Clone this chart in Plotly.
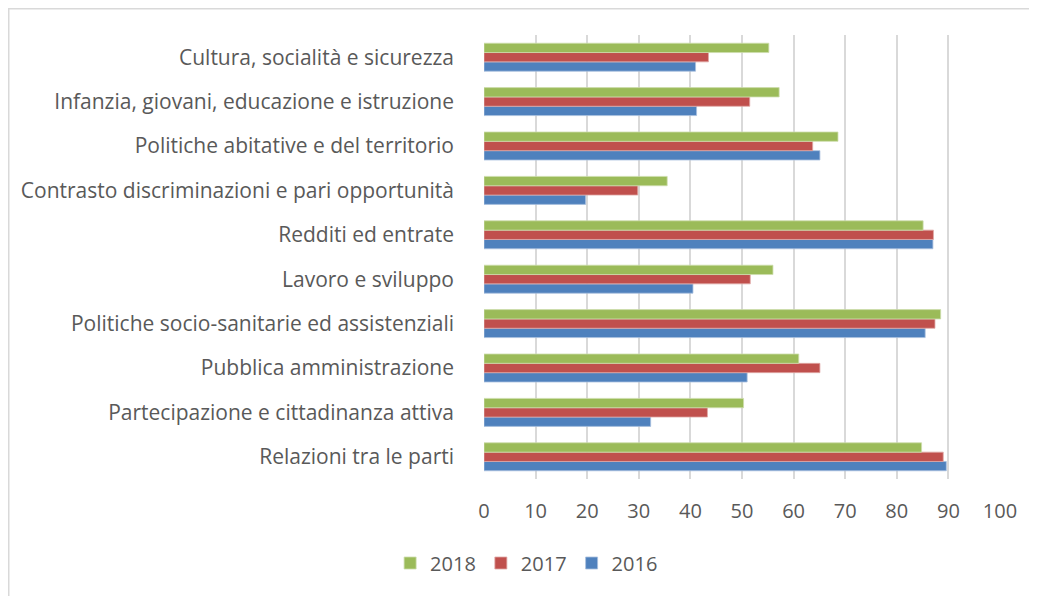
import plotly.graph_objects as go

categories = [
    "Cultura, socialità e sicurezza",
    "Infanzia, giovani, educazione e istruzione",
    "Politiche abitative e del territorio",
    "Contrasto discriminazioni e pari opportunità",
    "Redditi ed entrate",
    "Lavoro e sviluppo",
    "Politiche socio-sanitarie ed assistenziali",
    "Pubblica amministrazione",
    "Partecipazione e cittadinanza attiva",
    "Relazioni tra le parti",
]
values_2018 = [55.2, 57.2, 68.6, 35.5, 85.1, 56.0, 88.5, 61.0, 50.3, 84.8]
values_2017 = [43.5, 51.5, 63.7, 29.8, 87.1, 51.6, 87.4, 65.1, 43.3, 89.0]
values_2016 = [41.0, 41.2, 65.1, 19.7, 87.0, 40.5, 85.5, 51.0, 32.3, 89.6]
x_ticks = [0, 10, 20, 30, 40, 50, 60, 70, 80, 90, 100]

series = [
    ("2016", values_2016, "#4F81BD", "#A9C0DE"),
    ("2017", values_2017, "#C0504D", "#DFA8A6"),
    ("2018", values_2018, "#9BBB59", "#CDDDAC"),
]

FONT = "Open Sans"
TXT = "#595959"

fig = go.Figure()
for name, vals, col, edge in series:
    fig.add_trace(go.Bar(
        y=categories, x=vals, name=name, orientation="h",
        marker=dict(color=col, line=dict(color=edge, width=0.8)),
    ))

# page places the figure at an 8px offset
W, H = 1029, 588
L, T = 476, 27
pw, ph = 516, 444
R, B = W - L - pw, H - T - ph

fig.update_layout(
    width=W, height=H,
    margin=dict(l=L, r=R, t=T, b=B, autoexpand=False),
    paper_bgcolor="white", plot_bgcolor="white",
    barmode="group", bargap=0.37, bargroupgap=0,
    font=dict(family=FONT, size=21, color=TXT),
    showlegend=True,
    legend=dict(
        orientation="h", traceorder="reversed",
        xref="container", yref="container",
        x=0.504, y=1 - 555 / H, xanchor="center", yanchor="middle",
        font=dict(family=FONT, size=20, color=TXT),
        itemwidth=30, tracegroupgap=0,
    ),
    xaxis=dict(
        range=[0, 100], tickvals=x_ticks, ticktext=[str(v) for v in x_ticks],
        showgrid=True, gridcolor="#D9D9D9", gridwidth=1.8,
        zeroline=False, showline=False, ticks="",
        ticklabelstandoff=18,
        tickfont=dict(family=FONT, size=20, color=TXT),
        fixedrange=True,
    ),
    yaxis=dict(
        categoryorder="array", categoryarray=list(reversed(categories)),
        showgrid=False, zeroline=False, showline=False, ticks="",
        ticklabelstandoff=29,
        tickfont=dict(family=FONT, size=21, color=TXT),
        fixedrange=True,
    ),
    shapes=[
        dict(type="line", xref="paper", yref="paper",
             x0=(0.75 - L) / pw, x1=(0.75 - L) / pw,
             y0=(H - B - 0.75) / ph, y1=-(B + 10) / ph,
             line=dict(color="#D9D9D9", width=1.5)),
        dict(type="line", xref="paper", yref="paper",
             x0=(0 - L) / pw, x1=(W + 10 - L) / pw,
             y0=(H - B - 0.75) / ph, y1=(H - B - 0.75) / ph,
             line=dict(color="#D9D9D9", width=1.5)),
    ],
)

fig.write_html("out.html")
